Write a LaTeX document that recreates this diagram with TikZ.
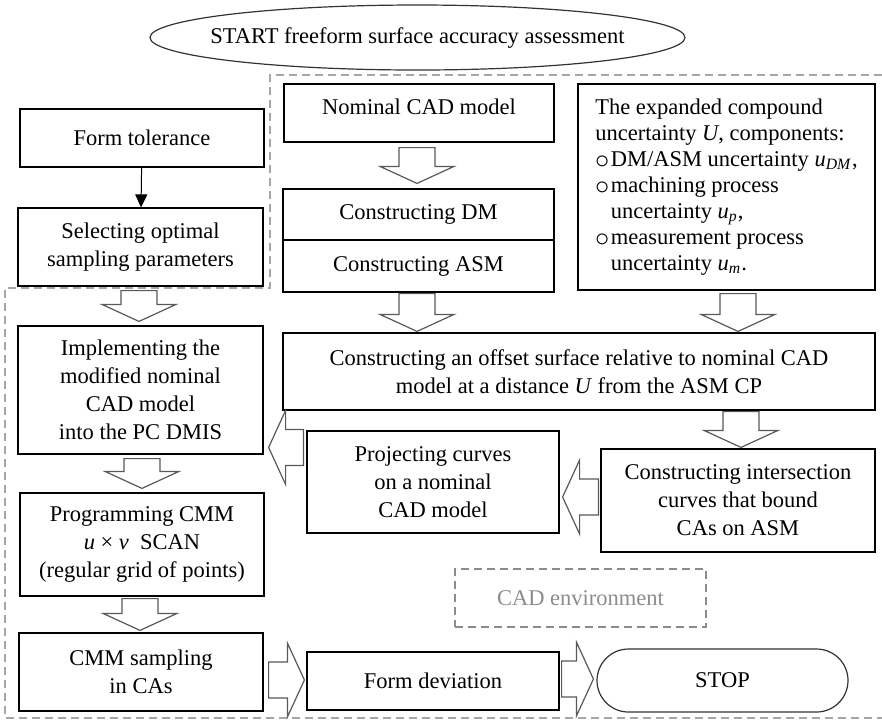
\documentclass[tikz,border=0pt]{standalone}
\usepackage{fontspec}
\setmainfont{Liberation Serif}
\usetikzlibrary{positioning,calc}
\usetikzlibrary{arrows.meta}
\usetikzlibrary{shapes.misc,shapes.geometric}
\tikzset{
        box/.style={align=center,inner sep=0pt},
        % Process steps
        node_step/.style={box, rectangle, draw=black, line width=0.6pt, fill=white},
        % Start / stop terminals
        node_term/.style={box, draw=black!80, line width=0.6pt, fill=white},
        % Hollow block arrows
        arrow_block/.style={draw=black!65, line width=0.6pt, fill=white, miter limit=20},
        % Dashed environment frames
        frame_env/.style={draw=black!35, dash pattern=on 4pt off 2.5pt, line width=0.7pt}
}
% hollow block arrow from #1 to #2
\newcommand{\fatarrow}[2]{%
  \draw[arrow_block] let \p1=#1, \p2=#2,
      \n1={atan2(\y2-\y1,\x2-\x1)}, \n2={veclen(\x2-\x1,\y2-\y1)} in
    [shift={(\p1)}, rotate=\n1]
    (0pt,-9pt) -- ({\n2*1pt-8.5pt},-9pt) -- ({\n2*1pt-8.5pt},-18.5pt) -- ({\n2*1pt},0pt)
    -- ({\n2*1pt-8.5pt},18.5pt) -- ({\n2*1pt-8.5pt},9pt) -- (0pt,9pt) -- cycle;}
\newcommand{\cbul}{\raisebox{-0.9pt}[0pt][0pt]{\scalebox{1.3}{$\circ$}}\kern0.6pt}

\begin{document}
\begin{tikzpicture}[x=0.5pt, y=-0.5pt, font=\fontsize{11.25}{14}\selectfont]
    \useasboundingbox (0,0) rectangle (882,720);
    % CAD environment frame
    \draw[frame_env] (882,75) -- (270,75) -- (270,288) -- (5,288) -- (5,718) -- (882,718);

    \node[box] (start) at (417.5,37.5) {START freeform surface accuracy assessment};
    \draw[draw=black!80, line width=0.6pt] (start.center) ellipse [x radius=267.5, y radius=32.5];

    % left column
    \node[node_step, minimum width=122pt, minimum height=29pt] (formtol) at (142,138) {Form tolerance};
    \node[node_step, minimum width=122.5pt, minimum height=39pt] (select) at (140.5,247)
        {Selecting optimal\\sampling parameters};
    \node[node_step, minimum width=122.5pt, minimum height=64pt] (implement) at (140.5,390)
        {Implementing the\\modified nominal\\CAD model\\into the PC DMIS};
    \node[node_step, minimum width=122pt, minimum height=51.5pt] (program) at (142,544.5)
        {Programming CMM\\\textit{u} × \textit{v}\ \ SCAN\\(regular grid of points)};
    \node[node_step, minimum width=122pt, minimum height=39pt] (cmm) at (141,672)
        {CMM sampling\\in CAs};

    % middle column
    \node[node_step, minimum width=135pt, minimum height=29pt, text depth=6pt] (nominal) at (419,113)
        {Nominal CAD model};
    \node[node_step, minimum width=135.5pt, minimum height=25.5pt] (dm) at (418.5,214.5) {Constructing DM};
    \node[node_step, minimum width=135.5pt, minimum height=26pt] (asm) at (418.5,266) {Constructing ASM};
    \node[node_step, minimum width=296pt, minimum height=38.5pt] (offset) at (579,371.5)
        {Constructing an offset surface relative to nominal CAD\\model at a distance \textit{U} from the ASM CP};
    \node[node_step, minimum width=126pt, minimum height=51pt] (project) at (433,482)
        {Projecting curves\\on a nominal\\CAD model};
    \node[node_step, minimum width=126pt, minimum height=29pt] (formdev) at (433,681) {Form deviation};

    % right column
    \node[node_step, align=left, minimum width=148.5pt, minimum height=103pt,
          font=\fontsize{11.25}{13}\selectfont] (unc) at (726.5,187)
        {The expanded compound\\
         uncertainty \textit{U}, components:\\
         \cbul DM/ASM uncertainty \textit{u}\textsubscript{\textit{DM}},\\
         \cbul machining process\\
         \phantom{\cbul}uncertainty \textit{u}\textsubscript{\textit{p}},\\
         \cbul measurement process\\
         \phantom{\cbul}uncertainty \textit{u}\textsubscript{\textit{m}}.};
    \node[node_step, minimum width=137pt, minimum height=51.5pt] (intersect) at (738,500.5)
        {Constructing intersection\\curves that bound\\CAs on ASM};
    \node[box, draw=black!45, text=black!45, dash pattern=on 4pt off 2.5pt, line width=0.6pt,
          minimum width=125.5pt, minimum height=29pt] (cadenv) at (580.5,598) {CAD environment};
    \node[node_term, rounded rectangle, minimum width=125.5pt, minimum height=31.5pt] (stop) at (722.5,680.5)
        {STOP};

    % connectors
    \draw[-{Triangle[length=6.5pt,width=6pt]}, line width=0.5pt] (formtol) -- (select);
    \fatarrow{($(nominal.south)+(-2,5)$)}{($(dm.north)+(-1.5,-5)$)}
    \fatarrow{($(select.south)+(-1.5,4)$)}{($(implement.north)+(-1.5,-4)$)}
    \fatarrow{($(asm.south)+(-1.5,1)$)}{($(offset.north -| asm.south)+(-1.5,-1)$)}
    \fatarrow{($(unc.south)+(11.5,3)$)}{($(offset.north -| unc.south)+(11.5,-1)$)}
    \fatarrow{($(intersect.north |- offset.south)+(3,1)$)}{($(intersect.north)+(3,-1)$)}
    \fatarrow{($(intersect.west)+(-2,-3.5)$)}{($(intersect.west -| project.east)+(3,-3.5)$)}
    \fatarrow{($(project.north west)+(-3,17)$)}{($(implement.east |- project.north west)+(5,17)$)}
    \fatarrow{($(implement.south)+(1.5,4)$)}{($(program.north)+(0,-4)$)}
    \fatarrow{($(program.south)+(-2,2)$)}{($(cmm.north)+(-1,-2)$)}
    \fatarrow{($(cmm.east |- formdev.west)+(5,-1)$)}{($(formdev.west)+(-2,-1)$)}
    \fatarrow{($(formdev.east)+(2,-2)$)}{($(stop.west)+(-3,-1.5)$)}
\end{tikzpicture}
\end{document}
